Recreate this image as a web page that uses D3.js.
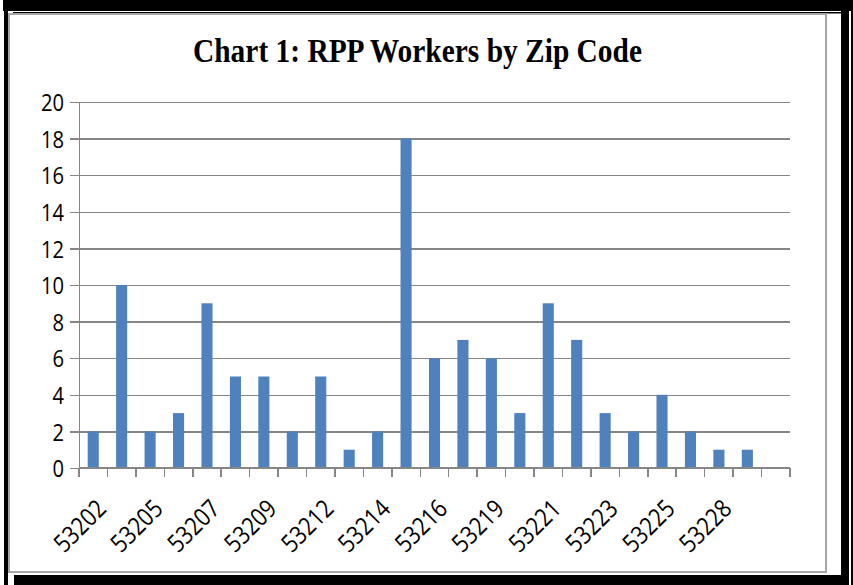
<!DOCTYPE html>
<html>
<head>
<meta charset="UTF-8">
<script src="https://cdn.jsdelivr.net/npm/d3@7"></script>
<style>
  body { margin: 0; background: #fff; }
  svg text { font-family: "Open Sans", sans-serif; fill: #000; }
  .title { font-family: "Liberation Serif", serif; font-weight: bold; }
  .axis path, .axis line { stroke: #868686; stroke-width: 1.5; shape-rendering: crispEdges; }
  .grid line { stroke: #868686; stroke-width: 1.5; shape-rendering: crispEdges; }
  .grid path { display: none; }
</style>
</head>
<body>
<svg width="853" height="585"></svg>
<script>
// data
var zipCodes = ['53202', '53204', '53205', '53206', '53207', '53208', '53209', '53210',
  '53212', '53213', '53214', '53215', '53216', '53218', '53219', '53220', '53221',
  '53222', '53223', '53224', '53225', '53226', '53228', '53233', ''];
var workers = [2, 10, 2, 3, 9, 5, 5, 2, 5, 1, 2, 18, 6, 7, 6, 3, 9, 7, 3, 2, 4, 2, 1, 1, null];
var yTicks = [0, 2, 4, 6, 8, 10, 12, 14, 16, 18, 20];
var titleText = 'Chart 1: RPP Workers by Zip Code';

var svg = d3.select('svg');

// picture frame
svg.append('rect').attr('x', 3).attr('y', 0).attr('width', 850).attr('height', 11).attr('fill', '#000');
svg.append('rect').attr('x', 4).attr('y', 0).attr('width', 4).attr('height', 585).attr('fill', '#000');
svg.append('rect').attr('x', 14).attr('y', 575).attr('width', 827).attr('height', 10).attr('fill', '#000');
svg.append('rect').attr('x', 841).attr('y', 10).attr('width', 8).attr('height', 575).attr('fill', '#000');
svg.append('rect').attr('x', 851).attr('y', 10).attr('width', 2).attr('height', 575).attr('fill', '#000');
svg.append('rect').attr('x', 13).attr('y', 12).attr('width', 828).attr('height', 1.5).attr('fill', '#000');
svg.append('rect').attr('x', 9).attr('y', 14).attr('width', 817).attr('height', 558)
  .attr('fill', '#fff').attr('stroke', '#a6a6a6').attr('stroke-width', 2);

var margin = { left: 79, top: 102, right: 790, bottom: 468 };

var x = d3.scaleBand().domain(d3.range(zipCodes.length))
  .range([margin.left, margin.right]).paddingInner(0.61).paddingOuter(0.305);
var xTicks = d3.scaleBand().domain(d3.range(zipCodes.length))
  .range([margin.left, margin.right]);
var y = d3.scaleLinear().domain([0, 20]).range([margin.bottom, margin.top]);

// squeeze text horizontally (the source picture is narrow)
function squeeze(sel, k) {
  sel.each(function() {
    var len = this.getComputedTextLength();
    d3.select(this).attr('textLength', len * k).attr('lengthAdjust', 'spacingAndGlyphs');
  });
}

// gridlines
svg.append('g').attr('class', 'grid')
  .attr('transform', 'translate(' + margin.left + ',0)')
  .call(d3.axisLeft(y).tickValues(yTicks).tickSize(-(margin.right - margin.left)).tickFormat(''));

// y axis
var yAxis = svg.append('g').attr('class', 'axis')
  .attr('transform', 'translate(' + margin.left + ',0)')
  .call(d3.axisLeft(y).tickValues(yTicks).tickSize(9).tickSizeOuter(0).tickPadding(6));
yAxis.selectAll('text').style('font-size', '24px').attr('dy', '0.36em');
squeeze(yAxis.selectAll('text'), 0.84);

// bars
svg.append('g').selectAll('rect')
  .data(workers.map(function(v, i) { return { i: i, v: v }; }).filter(function(d) { return d.v != null; }))
  .enter().append('rect')
  .attr('x', function(d) { return x(d.i); })
  .attr('width', x.bandwidth())
  .attr('y', function(d) { return y(d.v); })
  .attr('height', function(d) { return y(0) - y(d.v); })
  .attr('fill', '#4f81bd');

// x axis: ticks on category boundaries
var xAxis = svg.append('g').attr('class', 'axis')
  .attr('transform', 'translate(0,' + margin.bottom + ')');
xAxis.append('line').attr('x1', margin.left).attr('x2', margin.right);
xAxis.selectAll('.tk').data(d3.range(zipCodes.length + 1)).enter().append('line')
  .attr('class', 'tk')
  .attr('x1', function(i) { return margin.left + i * xTicks.step(); })
  .attr('x2', function(i) { return margin.left + i * xTicks.step(); })
  .attr('y1', 0).attr('y2', 9);

var xl = xAxis.selectAll('.lbl')
  .data(zipCodes.map(function(z, i) { return { z: z, i: i }; }).filter(function(d) { return d.i % 2 === 0; }))
  .enter().append('text').attr('class', 'lbl')
  .attr('transform', function(d) {
    return 'translate(' + (x(d.i) + x.bandwidth() / 2 + 2) + ',30) rotate(-45)';
  })
  .attr('text-anchor', 'end')
  .attr('dy', '0.7em')
  .style('font-size', '25px')
  .text(function(d) { return d.z; });
squeeze(xl, 0.86);

// title
var t = svg.append('text').attr('class', 'title')
  .attr('x', 417.5).attr('y', 62)
  .attr('text-anchor', 'middle')
  .style('font-size', '34px')
  .text(titleText);
t.attr('textLength', 449).attr('lengthAdjust', 'spacingAndGlyphs');
</script>
</body>
</html>
